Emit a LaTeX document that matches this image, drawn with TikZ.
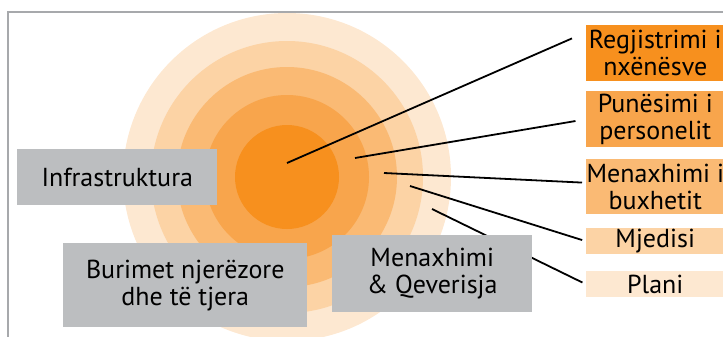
\documentclass[tikz,border=0pt]{standalone}
\usepackage{fontspec}
\setmainfont{PT Sans}
\usepackage{tikz}
\usetikzlibrary{positioning}
\definecolor{ringA}{HTML}{F7901E}
\definecolor{ringB}{HTML}{F8A54C}
\definecolor{ringC}{HTML}{FABA74}
\definecolor{ringD}{HTML}{FCD3A5}
\definecolor{ringE}{HTML}{FDE8D1}
\definecolor{boxgrey}{HTML}{BCBEC0}
\definecolor{framegrey}{HTML}{A7A9AC}
\newcommand{\bigtext}{\fontsize{19.5}{20.5}\selectfont}

\begin{document}
\begin{tikzpicture}[
  x=0.75pt, y=-0.75pt,
  font=\bigtext,
  area/.style  ={fill=boxgrey,align=center,inner sep=0pt,anchor=north west},
  topic/.style ={align=center,inner sep=0pt,anchor=north west,
                 minimum width=138*0.75pt},
  link/.style  ={line width=1.35pt,shorten >=3pt},
  rim/.style   ={draw=framegrey,line width=1.2pt}]

\useasboundingbox (0,0) rectangle (723,336);
\clip (0,0) rectangle (723,336);

% --- frame ---
\draw[rim] (8,340) |- (730,12);

% --- target rings ---
\foreach \r/\c in {164/ringE,136/ringD,110/ringC,82/ringB,52/ringA}
  \fill[\c] (287,177) circle[radius=\r];

% --- topics on the right ---
\node[topic,fill=ringA,minimum height=56*0.75pt] (reg) at (586,25)
  {Regjistrimi i\\nxënësve};
\node[topic,fill=ringB,minimum height=56*0.75pt] (pun) at (586,91)
  {Punësimi i\\personelit};
\node[topic,fill=ringC,minimum height=55*0.75pt] (bux) at (586,159)
  {Menaxhimi i\\buxhetit};
\node[topic,fill=ringD,minimum height=26*0.75pt] (mje) at (586,228) {Mjedisi};
\node[topic,fill=ringE,minimum height=26*0.75pt] (pla) at (586,271) {Plani};

% --- free ends inside the rings ---
\coordinate (inA) at (287,163);
\coordinate (inB) at (355,158);
\coordinate (inC) at (384,173);
\coordinate (inD) at (410,186);
\coordinate (inE) at (432,209);

\draw[link,shorten >=11.5pt] (inA) -- ([shift={(0,-21)}]reg.west);
\draw[link,shorten >=8pt] (inB) -- (pun.west);
\draw[link] (inC) -- ([shift={(0,-4)}]bux.west);
\draw[link] (inD) -- (mje.west);
\draw[link] (inE) -- (pla.west);

% --- grey areas ---
\node[area,minimum width=200*0.75pt,minimum height=56*0.75pt] (inf) at (17,149)
  {Infrastruktura};
\node[area,minimum width=244*0.75pt,minimum height=84*0.75pt] (bur) at (63,243)
  {Burimet njerëzore\\dhe të tjera};
\node[area,minimum width=200*0.75pt,minimum height=77*0.75pt] (qev) at (332,235)
  {Menaxhimi\\\& Qeverisja};

\end{tikzpicture}
\end{document}
